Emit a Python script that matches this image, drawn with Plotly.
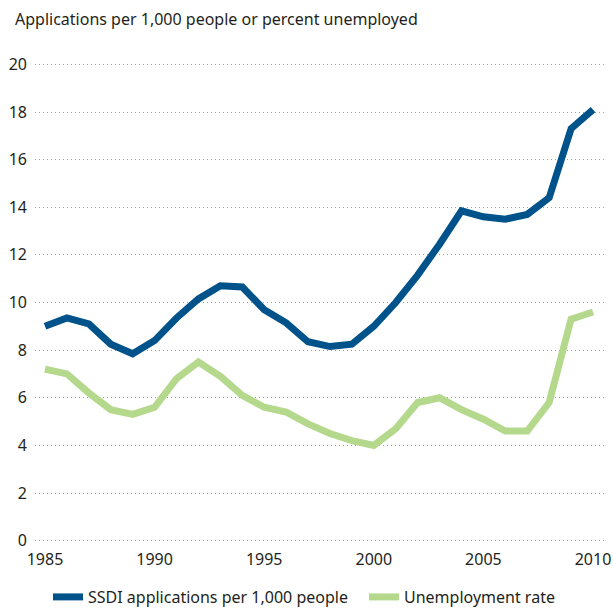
import plotly.graph_objects as go

years = list(range(1985, 2011))
ssdi = [9.0, 9.35, 9.1, 8.25, 7.85, 8.4, 9.35, 10.15, 10.7, 10.65, 9.7, 9.15, 8.35,
        8.15, 8.25, 9.0, 10.0, 11.15, 12.45, 13.85, 13.6, 13.5, 13.7, 14.4, 17.3, 18.1]
unemp = [7.2, 7.0, 6.2, 5.5, 5.3, 5.6, 6.8, 7.5, 6.9, 6.1, 5.6, 5.4, 4.9,
         4.5, 4.2, 4.0, 4.7, 5.8, 6.0, 5.5, 5.1, 4.6, 4.6, 5.8, 9.3, 9.6]
x_ticks = [1985, 1990, 1995, 2000, 2005, 2010]
y_ticks = list(range(0, 21, 2))

FONT = "Noto Sans, sans-serif"
TXT = "#231f20"

fig = go.Figure()
fig.add_trace(go.Scatter(x=years, y=ssdi, mode="lines", name="SSDI applications per 1,000 people",
                         line=dict(color="#00538a", width=7), legend="legend"))
fig.add_trace(go.Scatter(x=years, y=unemp, mode="lines", name="Unemployment rate",
                         line=dict(color="#b5d98c", width=7), legend="legend2"))

fig.add_annotation(text="Applications per 1,000 people or percent unemployed",
                   xref="paper", yref="paper", x=(13 - 35) / 570, y=(543 - 19) / 481,
                   xanchor="left", yanchor="middle", showarrow=False,
                   font=dict(family=FONT, size=16, color=TXT))

leg_y = (543 - 597) / 481
fig.update_layout(
    width=613, height=609,
    margin=dict(l=35, r=8, t=62, b=66, autoexpand=False),
    paper_bgcolor="white", plot_bgcolor="white",
    font=dict(family=FONT, size=16, color=TXT),
    showlegend=True,
    legend=dict(orientation="h", x=(48 - 35) / 570, xanchor="left", y=leg_y,
                yanchor="middle", font=dict(family=FONT, size=16, color=TXT),
                bgcolor="rgba(0,0,0,0)"),
    legend2=dict(orientation="h", x=(364 - 35) / 570, xanchor="left", y=leg_y,
                 yanchor="middle", font=dict(family=FONT, size=16, color=TXT),
                 bgcolor="rgba(0,0,0,0)"),
    xaxis=dict(range=[1984.544, 2010.547], tickvals=x_ticks, showgrid=False, zeroline=False,
               showline=False, ticks="", tickfont=dict(size=16), ticklabeloverflow="allow",
               ticklabelstandoff=5),
    yaxis=dict(range=[-0.1, 20.1], tickvals=y_ticks, showgrid=True, gridcolor="#a0a0a0",
               griddash="1px,3px", gridwidth=1, zeroline=False, showline=False, ticks="",
               ticklabelstandoff=7, tickfont=dict(size=16), ticklabeloverflow="allow"),
)

fig.write_html("out.html", config={"displayModeBar": False},
               post_script="document.body.style.margin='0';document.body.style.overflow='hidden';")
